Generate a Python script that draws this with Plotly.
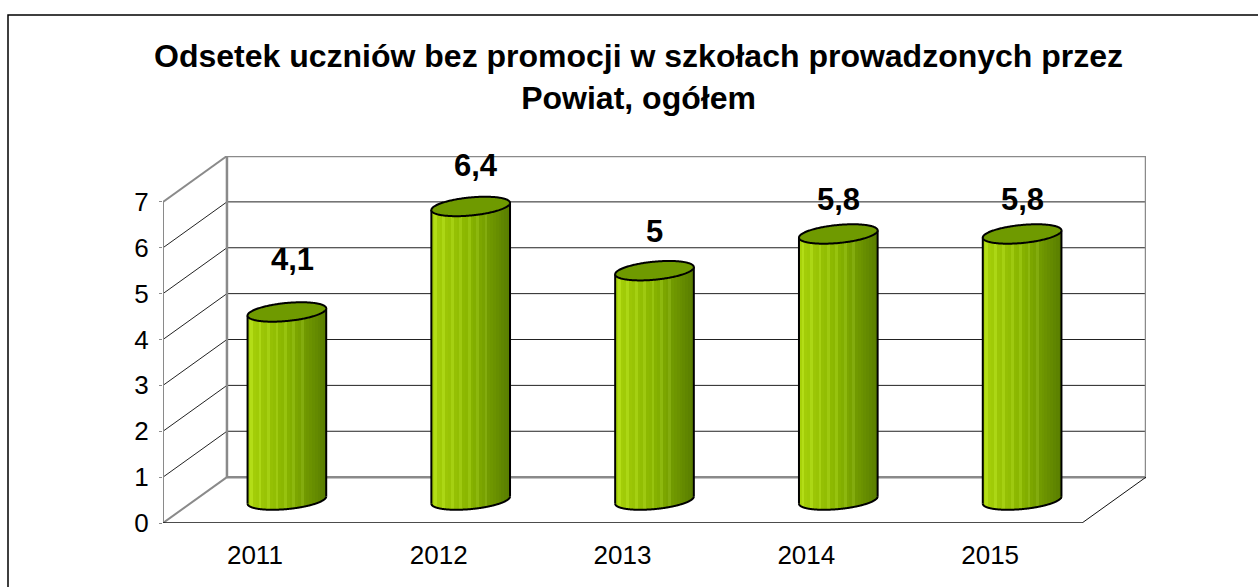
import numpy as np
import plotly.graph_objects as go

# ---------------- data ----------------
years = ["2011", "2012", "2013", "2014", "2015"]
values = [4.1, 6.4, 5.0, 5.8, 5.8]
value_labels = ["4,1", "6,4", "5", "5,8", "5,8"]
y_ticks = [0, 1, 2, 3, 4, 5, 6, 7]
title_lines = ["Odsetek uczniów bez promocji w szkołach prowadzonych przez", "Powiat, ogółem"]

# ---------------- style / geometry ----------------
W_PX, H_PX = 1258, 587
ML, MR, MT, MB = 163, 112, 156, 64
PLOT_W = W_PX - ML - MR
PLOT_H = H_PX - MT - MB
DX, DY = 0.348, 1.0                      # 3-D depth offset (category units, value units)
X_RANGE = [-0.5, len(years) - 0.5 + DX]
Y_RANGE = [0, max(y_ticks) + DY]
PPX = PLOT_W / (X_RANGE[1] - X_RANGE[0])
PPY = PLOT_H / (Y_RANGE[1] - Y_RANGE[0])
FONT = "Liberation Sans, Arial, sans-serif"
label_shift_px = [52, 41, 39, 34, 34]
label_xshift_px = [6, 5, 0, 0, 0]
GRAY = "#8a8a8a"

# cylinder ellipse (pixel units)
EA, EB, TH = 39.5, 9.0, np.radians(5.5)
t0 = np.arctan(-(EB / EA) * np.tan(TH))


def ell(t):
    ex = EA * np.cos(t) * np.cos(TH) - EB * np.sin(t) * np.sin(TH)
    ey = EA * np.cos(t) * np.sin(TH) + EB * np.sin(t) * np.cos(TH)
    return ex, ey


tl = np.linspace(t0 + np.pi, t0 + 2 * np.pi, 240)   # lower arc, left -> right
lx, ly = ell(tl)
tf = np.linspace(0, 2 * np.pi, 241)
fx, fy = ell(tf)

N_SL = 28
edges = np.linspace(lx[0], lx[-1], N_SL + 1)
centers = 0.5 * (edges[:-1] + edges[1:])
arc = np.interp(centers, lx, ly)
c_left = np.array([168, 210, 10])
c_mid = np.array([136, 180, 0])
c_right = np.array([90, 126, 0])

cx = [i + DX / 2 for i in range(len(years))]
base0 = DY / 2

fig = go.Figure()

for k in range(N_SL):
    f = k / (N_SL - 1)
    if f < 0.5:
        c = c_left + (c_mid - c_left) * (f / 0.5)
    else:
        c = c_mid + (c_right - c_mid) * ((f - 0.5) / 0.5)
    if k % 3 == 1 and f < 0.8:
        c = np.minimum(c + 14, 255)
    col = "rgb(%d,%d,%d)" % tuple(int(v) for v in c)
    fig.add_trace(go.Bar(
        x=[x + centers[k] / PPX for x in cx],
        y=values,
        base=[base0 + arc[k] / PPY] * len(values),
        width=(edges[1] - edges[0]) / PPX * 1.08,
        marker=dict(color=col, line=dict(width=0)),
        hoverinfo="skip", showlegend=False,
    ))

shapes = []


def line(x0, y0, x1, y1, color, width, layer="below"):
    shapes.append(dict(type="line", xref="x", yref="y", x0=x0, y0=y0, x1=x1, y1=y1,
                       line=dict(color=color, width=width), layer=layer))


xl, xr = X_RANGE[0], len(years) - 0.5
top = max(y_ticks)
# back wall gridlines
for v in y_ticks[1:-1]:
    line(xl + DX, v + DY, xr + DX, v + DY, "#222222", 1)
# left wall diagonals
for v in y_ticks[1:-1]:
    line(xl, v, xl + DX, v + DY, "#222222", 1)
line(xl, 0, xl + DX, DY, GRAY, 2)
line(xl, top, xl + DX, top + DY, GRAY, 2)
# walls frame
line(xl + DX, DY, xr + DX, DY, GRAY, 2.5)
line(xl + DX, top + DY, xr + DX, top + DY, GRAY, 2.5)
line(xl + DX, DY, xl + DX, top + DY, GRAY, 2.5)
line(xr + DX, DY, xr + DX, top + DY, GRAY, 2.5)
line(xl, 0, xl, top, GRAY, 2)
# floor
line(xl, 0, xr, 0, "#111111", 1.5)
line(xr, 0, xr + DX, DY, "#111111", 1)
# category boundary ticks
for b in np.arange(xl, xr + 0.01, 1.0):
    shapes.append(dict(type="line", xref="x", yref="y", ysizemode="pixel", yanchor=0,
                       x0=b, x1=b, y0=0, y1=-7, line=dict(color="#666666", width=1.2)))


def path(xs, ys, close):
    s = "M " + " L ".join("%.5f,%.5f" % (a, b) for a, b in zip(xs, ys))
    return s + (" Z" if close else "")


for i, v in enumerate(values):
    c = cx[i]
    # bottom arc
    shapes.append(dict(type="path", xref="x", yref="y",
                       path=path(c + lx / PPX, base0 + ly / PPY, False),
                       line=dict(color="black", width=2), layer="above"))
    # sides
    for j in (0, -1):
        line(c + lx[j] / PPX, base0 + ly[j] / PPY, c + lx[j] / PPX, base0 + v + ly[j] / PPY,
             "black", 2, layer="above")
    # top ellipse
    shapes.append(dict(type="path", xref="x", yref="y",
                       path=path(c + fx / PPX, base0 + v + fy / PPY, True),
                       fillcolor="#6f9a00", line=dict(color="black", width=2), layer="above"))

# outer frame
px2x = lambda px: (px - ML) / PLOT_W
py2y = lambda py: (H_PX - MB - py) / PLOT_H
shapes.append(dict(type="rect", xref="paper", yref="paper",
                   x0=px2x(8), x1=px2x(1275), y0=py2y(15), y1=py2y(600),
                   line=dict(color="black", width=1.5), layer="below"))

annotations = []
for i, v in enumerate(values):
    annotations.append(dict(x=cx[i], y=base0 + v, xref="x", yref="y", text="<b>%s</b>" % value_labels[i],
                            showarrow=False, yshift=label_shift_px[i], xshift=label_xshift_px[i],
                            yanchor="middle",
                            font=dict(family=FONT, size=31, color="black")))
annotations.append(dict(xref="paper", yref="paper", x=px2x(638.5), y=py2y(77),
                        text="<b>" + "<br>".join(title_lines) + "</b>",
                        showarrow=False, xanchor="center", yanchor="middle",
                        font=dict(family=FONT, size=32, color="black")))

fig.update_layout(
    width=W_PX, height=H_PX,
    margin=dict(l=ML, r=MR, t=MT, b=MB, pad=0),
    paper_bgcolor="white", plot_bgcolor="white",
    barmode="overlay", bargap=0,
    shapes=shapes, annotations=annotations,
    showlegend=False,
    xaxis=dict(range=X_RANGE, tickmode="array", tickvals=list(range(len(years))), ticktext=years,
               showgrid=False, zeroline=False, showline=False, ticks="",
               ticklabelstandoff=14, tickfont=dict(family=FONT, size=26, color="black"),
               fixedrange=True),
    yaxis=dict(range=Y_RANGE, tickmode="array", tickvals=y_ticks, ticktext=[str(v) for v in y_ticks],
               showgrid=False, zeroline=False, showline=False, ticks="outside", ticklen=3,
               tickcolor=GRAY, ticklabelstandoff=5,
               tickfont=dict(family=FONT, size=26, color="black"), fixedrange=True),
)

fig.write_html("out.html", config={"displayModeBar": False},
               post_script="document.body.style.margin='0';document.body.style.overflow='hidden';")
